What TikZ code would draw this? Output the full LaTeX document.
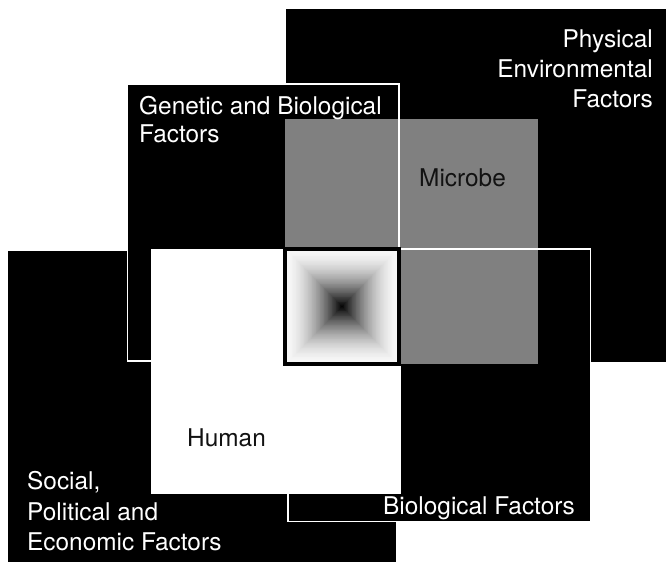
\documentclass[tikz,border=0pt]{standalone}
\usepackage{fontspec}
\setmainfont{TeX Gyre Heros}
\begin{document}
\begin{tikzpicture}[x=1pt,y=-1pt,
  lab/.style={font=\fontsize{24.4}{29}\selectfont, inner sep=0pt, text=white},
  darklab/.style={lab, text=black!93},
  factorbox/.style={fill=black, draw=white, line width=1.5pt}]
\useasboundingbox (0,0) rectangle (666,562);
\fill[white] (0,0) rectangle (666,562);
% Physical Environmental Factors
\fill[black] (286,9) rectangle (666,362);
% Social, Political and Economic Factors
\fill[black] (8,251) rectangle (396,562);
% Genetic and Biological Factors
\filldraw[factorbox] (127.5,84) rectangle (399,361);
% Biological Factors
\filldraw[factorbox] (288,249) rectangle (590.5,521.5);
% Microbe
\fill[white, fill opacity=0.5] (285,119) rectangle (538,364);
% Human
\fill[white] (151,249) rectangle (401,494);
% centre gradient square
\foreach \i in {0,...,69}{
  \pgfmathsetmacro\t{\i/70}
  \pgfmathsetmacro\d{3+97*pow(\t,1.7)}
  \pgfmathsetmacro\hw{56*(1-\t)}
  \pgfmathsetmacro\hh{57.5*(1-\t)}
  \fill[black!\d!white] ({342-\hw},{306.5-\hh}) rectangle ({342+\hw},{306.5+\hh});
}
\draw[black, line width=4pt] (285,249) rectangle (399,364);
% labels
\node[lab, anchor=base west] (gb1) at (139,114) {Genetic and Biological};
\node[lab, anchor=base west] (gb2) at (139,142) {Factors};
\node[lab, anchor=base east] (pe1) at (653,47) {Physical};
\node[lab, anchor=base east] (pe2) at (653,77) {Environmental};
\node[lab, anchor=base east] (pe3) at (653,107) {Factors};
\node[darklab, anchor=base west] (mic) at (419,186) {Microbe};
\node[darklab, anchor=base west] (hum) at (187,446) {Human};
\node[lab, anchor=base west] (sp1) at (27,489) {Social,};
\node[lab, anchor=base west] (sp2) at (27,520) {Political and};
\node[lab, anchor=base west] (sp3) at (27,550) {Economic Factors};
\node[lab, anchor=base west] (bf) at (383,514) {Biological Factors};
\end{tikzpicture}
\end{document}
